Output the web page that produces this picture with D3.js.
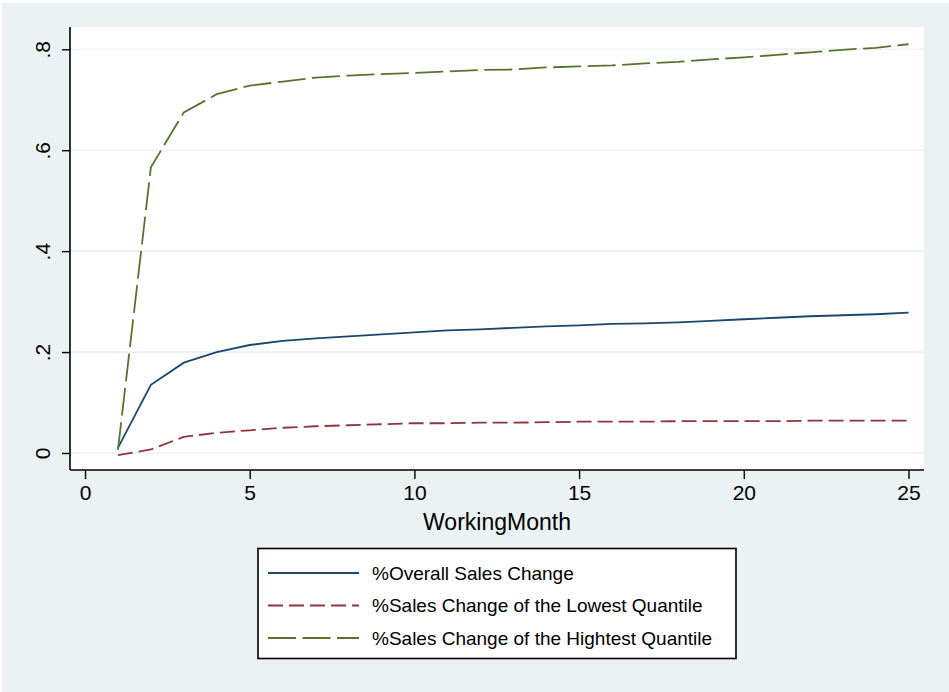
<!DOCTYPE html>
<html lang="en">
  <head>
    <meta charset="utf-8">
    <title>Sales change by working month</title>
    <style>
      body { margin: 0; background: white; }
      svg { display: block; }
      text { font-family: "Liberation Sans", Arial, sans-serif; fill: #000; }
    </style>
    <script src="https://d3js.org/d3.v7.min.js"></script>
  </head>
  <body>
    <div class="chart"></div>
    <script>

    const months = [1,2,3,4,5,6,7,8,9,10,11,12,13,14,15,16,17,18,19,20,21,22,23,24,25]

    const overall = [0.010,0.135,0.179,0.200,0.214,0.222,0.227,0.231,0.235,0.239,0.243,0.245,0.248,0.251,0.253,0.256,0.257,0.259,0.262,0.265,0.268,0.271,0.273,0.275,0.278]
    const lowest = [-0.004,0.007,0.032,0.040,0.045,0.050,0.053,0.055,0.057,0.059,0.059,0.060,0.060,0.061,0.062,0.062,0.062,0.063,0.063,0.063,0.063,0.064,0.064,0.064,0.064]
    const highest = [0.006,0.566,0.675,0.711,0.728,0.736,0.744,0.748,0.751,0.753,0.756,0.759,0.760,0.764,0.766,0.768,0.772,0.775,0.780,0.784,0.789,0.794,0.799,0.803,0.810]

    const seriesNames = ["%Overall Sales Change","%Sales Change of the Lowest Quantile","%Sales Change of the Hightest Quantile"]
    const xTicks = [0,5,10,15,20,25]
    const yTicks = [0,0.2,0.4,0.6,0.8]
    const yTickLabels = ["0",".2",".4",".6",".8"]

    const width = 949, height = 692
    const plot = { left: 70, right: 924, top: 27, bottom: 470 }

    const series = [
      { name: seriesNames[0], values: overall, color: "#1a476f", dash: null },
      { name: seriesNames[1], values: lowest, color: "#90353b", dash: "15,6" },
      { name: seriesNames[2], values: highest, color: "#55752f", dash: "28,6.5" }
    ]

    const x = d3.scaleLinear().domain([0,25]).range([85,908.5])
    const y = d3.scaleLinear().domain([0,0.8]).range([453,49.3])

    const svg = d3.select(".chart")
      .append("svg")
      .attr("width",width)
      .attr("height",height)

    // graph region
    svg.append("rect")
      .attr("x",2).attr("y",3)
      .attr("width",width-2).attr("height",height-3)
      .attr("fill","#eaf2f3")

    // plot region
    svg.append("rect")
      .attr("x",plot.left).attr("y",plot.top)
      .attr("width",plot.right-plot.left).attr("height",plot.bottom-plot.top)
      .attr("fill","white")

    // grid
    svg.append("g")
      .selectAll("line")
      .data(yTicks)
      .join("line")
      .attr("x1",plot.left).attr("x2",plot.right)
      .attr("y1",d=>y(d)).attr("y2",d=>y(d))
      .attr("stroke","#eaf2f3")
      .attr("stroke-width",1.6)

    // y axis
    const yAxis = svg.append("g")
      .attr("transform",`translate(${plot.left},0)`)
      .call(d3.axisLeft(y).tickValues(yTicks).tickSize(8).tickPadding(0).tickFormat((d,i)=>yTickLabels[i]))
    yAxis.select(".domain").attr("d",`M0,${plot.top}V${plot.bottom}`).attr("stroke","#000").attr("stroke-width",1.6)
    yAxis.selectAll(".tick line").attr("stroke","#000").attr("stroke-width",1.4)
    yAxis.selectAll(".tick text")
      .attr("x",null).attr("dy",null)
      .attr("transform","translate(-28,0) rotate(-90)")
      .attr("text-anchor","middle")
      .attr("dominant-baseline","central")
      .style("font-size","21px")
      .style("font-family","Liberation Sans, Arial, sans-serif")
      .attr("fill","#000")

    // x axis
    const xAxis = svg.append("g")
      .attr("transform",`translate(0,${plot.bottom})`)
      .call(d3.axisBottom(x).tickValues(xTicks).tickSize(9).tickPadding(6))
    xAxis.select(".domain").attr("d",`M${plot.left},0H${plot.right}`).attr("stroke","#000").attr("stroke-width",1.6)
    xAxis.selectAll(".tick line").attr("stroke","#000").attr("stroke-width",1.4)
    xAxis.selectAll(".tick text")
      .style("font-size","21px")
      .style("font-family","Liberation Sans, Arial, sans-serif")
      .attr("fill","#000")

    svg.append("text")
      .attr("x",(plot.left+plot.right)/2)
      .attr("y",530)
      .attr("text-anchor","middle")
      .style("font-size","23px")
      .text("WorkingMonth")

    // lines
    const line = vals => d3.line()
      .x((d,i)=>x(months[i]))
      .y(d=>y(d))(vals)

    svg.append("g")
      .selectAll("path")
      .data(series)
      .join("path")
      .attr("d",d=>line(d.values))
      .attr("fill","none")
      .attr("stroke",d=>d.color)
      .attr("stroke-width",1.8)
      .attr("stroke-dasharray",d=>d.dash)

    // legend
    const legend = svg.append("g")
    legend.append("rect")
      .attr("x",258).attr("y",548.5)
      .attr("width",478).attr("height",110)
      .attr("fill","white")
      .attr("stroke","#000")
      .attr("stroke-width",1.6)

    const rows = legend.selectAll("g.row")
      .data(series)
      .join("g")
      .attr("class","row")
      .attr("transform",(d,i)=>`translate(0,${573+i*32.5})`)

    rows.append("line")
      .attr("x1",268).attr("x2",359)
      .attr("stroke",d=>d.color)
      .attr("stroke-width",1.8)
      .attr("stroke-dasharray",d=>d.dash)

    rows.append("text")
      .attr("x",372)
      .attr("dy","0.35em")
      .style("font-size","19px")
      .text(d=>d.name)

    </script>
  </body>
</html>
